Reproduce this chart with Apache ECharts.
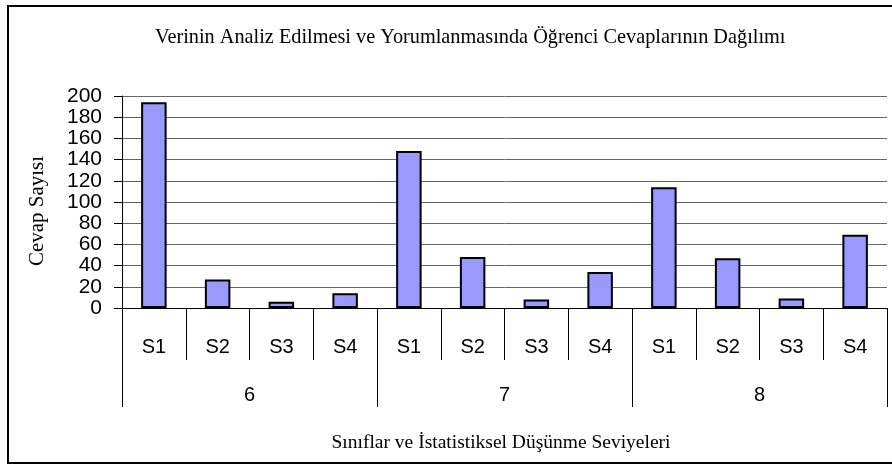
<!DOCTYPE html>
<html>
<head>
<meta charset="utf-8">
<script src="https://cdn.jsdelivr.net/npm/echarts@6/dist/echarts.min.js"></script>
<style>
  html, body { margin: 0; padding: 0; background: #fff; }
  #chart { width: 892px; height: 465px; }
</style>
</head>
<body>
<div id="chart"></div>
<script>
var levels = ['S1', 'S2', 'S3', 'S4', 'S1', 'S2', 'S3', 'S4', 'S1', 'S2', 'S3', 'S4']
var grades = ['6', '7', '8']
var answers = [194, 27, 6, 14, 148, 48, 8, 34, 114, 47, 9, 69]

var chartDom = document.getElementById('chart')
var myChart = echarts.init(chartDom)
var option

option = {
  backgroundColor: '#fff',
  animation: false,
  title: {
    text: 'Verinin Analiz Edilmesi ve Yorumlanmasında Öğrenci Cevaplarının Dağılımı',
    left: 150,
    top: 23,
    textStyle: {
      fontFamily: 'Liberation Serif',
      fontWeight: 'normal',
      fontSize: 20.3,
      color: '#000'
    }
  },
  graphic: [
    {
      type: 'rect',
      shape: { x: 8, y: 6, width: 900, height: 457 },
      style: { fill: 'none', stroke: '#000', lineWidth: 2 },
      silent: true
    },
    {
      // x axis title
      type: 'text',
      x: 501,
      y: 443,
      style: {
        text: 'Sınıflar ve İstatistiksel Düşünme Seviyeleri',
        font: '19.5px "Liberation Serif"',
        fill: '#000',
        align: 'center',
        verticalAlign: 'middle'
      }
    },
    {
      // y axis title
      type: 'text',
      x: 37,
      y: 211,
      rotation: Math.PI / 2,
      style: {
        text: 'Cevap Sayısı',
        font: '21px "Liberation Serif"',
        fill: '#000',
        align: 'center',
        verticalAlign: 'middle'
      }
    }
  ],
  grid: {
    left: 122,
    right: 5,
    top: 96,
    bottom: 157
  },
  xAxis: [
    {
      type: 'category',
      data: levels,
      position: 'bottom',
      axisLine: { lineStyle: { color: '#000', width: 1 } },
      axisTick: { show: true, interval: 0, length: 52, lineStyle: { color: '#000' } },
      axisLabel: {
        interval: 0,
        margin: 29,
        fontFamily: 'Liberation Sans',
        fontSize: 20,
        color: '#000'
      }
    },
    {
      type: 'category',
      data: grades,
      position: 'bottom',
      axisLine: { show: false },
      axisTick: { show: true, interval: 0, length: 99, lineStyle: { color: '#000' } },
      axisLabel: {
        interval: 0,
        margin: 77,
        fontFamily: 'Liberation Sans',
        fontSize: 20,
        color: '#000'
      }
    }
  ],
  yAxis: {
    type: 'value',
    min: 0,
    max: 200,
    interval: 20,
    axisLine: { show: true, lineStyle: { color: '#000' } },
    axisTick: { show: true, length: 8, lineStyle: { color: '#000' } },
    axisLabel: {
      margin: 20,
      fontFamily: 'Liberation Sans',
      fontSize: 21,
      color: '#000'
    },
    splitLine: { lineStyle: { color: '#666', width: 1 } }
  },
  series: [
    {
      type: 'bar',
      xAxisIndex: 0,
      data: answers,
      barWidth: '40%',
      itemStyle: {
        color: '#9999FF',
        borderColor: '#000',
        borderWidth: 2
      }
    }
  ]
}

option && myChart.setOption(option)
</script>
</body>
</html>
